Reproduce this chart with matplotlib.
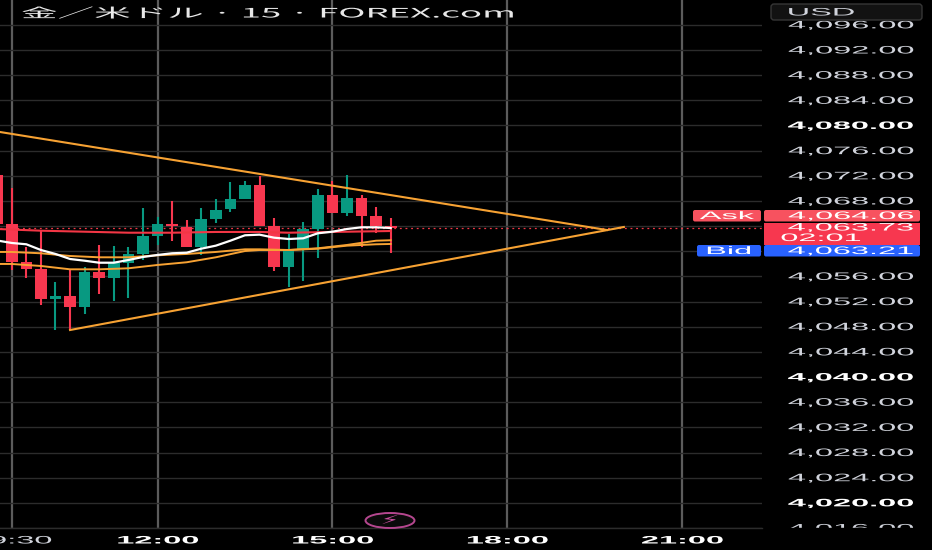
import matplotlib
matplotlib.use("Agg")
import matplotlib.pyplot as plt
from matplotlib.patches import Ellipse, FancyBboxPatch, Rectangle
from matplotlib.patheffects import AbstractPathEffect
from matplotlib.transforms import Affine2D

# bar times in hours, 09:15 .. 16:00
bar_hours = [9.25, 9.5, 9.75, 10.0, 10.25, 10.5, 10.75, 11.0, 11.25, 11.5, 11.75, 12.0, 12.25, 12.5,
             12.75, 13.0, 13.25, 13.5, 13.75, 14.0, 14.25, 14.5, 14.75, 15.0, 15.25, 15.5, 15.75, 16.0]
is_up = [0, 0, 0, 0, 1, 0, 1, 0, 1, 1, 1, 1, 0, 0, 1, 1, 1, 1, 0, 0,
         1, 1, 1, 0, 1, 0, 0, 0]
body_top = [4072.13, 4064.34, 4058.25, 4057.13, 4052.89, 4052.89, 4056.66, 4056.66, 4058.14, 4059.57,
            4062.43, 4064.29, 4064.29, 4063.91, 4065.13, 4066.61, 4068.26, 4070.59, 4070.59, 4064.02,
            4060.36, 4063.49, 4068.95, 4068.95, 4068.47, 4068.47, 4065.61, 4063.97]
body_bot = [4064.34, 4058.34, 4057.18, 4052.41, 4052.41, 4051.14, 4051.14, 4055.8, 4055.8, 4058.14,
            4059.57, 4062.48, 4063.97, 4060.68, 4060.68, 4065.13, 4066.67, 4068.26, 4064.02, 4057.5,
            4057.5, 4060.36, 4063.49, 4066.13, 4066.13, 4065.61, 4063.97, 4063.7]
highs = [4072.13, 4070.11, 4060.73, 4063.38, 4055.12, 4057.02, 4057.45, 4061.0, 4060.84, 4060.73,
         4066.88, 4065.5, 4067.95, 4064.93, 4066.83, 4068.26, 4071.01, 4071.17, 4071.97, 4065.29,
         4062.75, 4064.66, 4069.85, 4071.17, 4072.13, 4068.95, 4067.04, 4065.29]
lows = [4064.34, 4057.02, 4055.8, 4051.46, 4047.48, 4047.48, 4050.03, 4053.21, 4052.14, 4052.57,
        4058.61, 4061.0, 4061.68, 4060.68, 4059.36, 4064.5, 4066.24, 4068.26, 4064.02, 4056.82,
        4054.27, 4055.32, 4058.98, 4066.13, 4065.61, 4060.73, 4062.95, 4059.77]

white_ma = [4061.71, 4061.32, 4061.11, 4060.2, 4059.57, 4058.77, 4058.5, 4058.18, 4058.18, 4058.61,
            4059.09, 4059.41, 4059.68, 4059.77, 4060.41, 4060.89, 4061.68, 4062.54, 4062.64, 4062.16,
            4061.95, 4062.06, 4062.86, 4063.11, 4063.54, 4063.81, 4063.81, 4063.7]

orange_hours = [9.25, 9.5, 10.0, 10.5, 11.0, 11.5, 12.0, 12.5, 13.0, 13.5, 13.75, 14.25, 14.75, 15.25, 15.75, 16.0]
orange_a = [4059.89, 4059.89, 4059.68, 4059.25, 4059.04, 4059.04, 4059.36, 4059.57, 4059.89, 4060.31,
            4060.31, 4060.2, 4060.47, 4061.0, 4061.68, 4061.75]
orange_b = [4057.98, 4057.98, 4057.66, 4057.13, 4057.13, 4057.29, 4057.82, 4058.25, 4059.04, 4060.04,
            4060.2, 4060.2, 4060.41, 4060.89, 4061.11, 4061.16]

red_hours = [9.25, 10.0, 10.75, 11.5, 12.25, 13.0, 13.75, 14.25, 15.0, 16.0]
red_ma = [4063.54, 4063.27, 4063.11, 4062.95, 4062.95, 4063.07, 4063.07, 4062.95, 4063.07, 4063.22]

trend_upper_h = [9.3, 19.71]
trend_upper_p = [4078.96, 4063.38]
trend_lower_h = [10.5, 20.0]
trend_lower_p = [4047.48, 4063.86]

last_price = 4063.73
price_ticks = list(range(4016, 4100, 4))
hidden_prices = [4060, 4064]
bold_prices = [4020, 4040, 4080]
time_ticks = [9.5, 12, 15, 18, 21]
time_labels = ["09:30", "12:00", "15:00", "18:00", "21:00"]

UP = "#089981"
DOWN = "#f7374f"
ORANGE = "#f7a233"
W, H = 932, 550


class StretchX(AbstractPathEffect):
    # labels in the picture are squashed vertically, so widen them around x0
    def __init__(self, x0, sx):
        super().__init__()
        self.x0 = x0
        self.sx = sx

    def draw_path(self, renderer, gc, tpath, affine, rgbFace=None):
        t = affine + Affine2D().translate(-self.x0, 0).scale(self.sx, 1).translate(self.x0, 0)
        renderer.draw_path(gc, tpath, t, rgbFace)


fig = plt.figure(figsize=(W / 100, H / 100), dpi=100, facecolor="black")
ax = fig.add_axes([0, 1 - 528 / H, 762 / W, 528 / H], facecolor="black")
ax.set_xlim(9.298, 22.37)
ax.set_ylim(4016, 4099.95)
for s in ax.spines.values():
    s.set_visible(False)
ax.tick_params(length=0, labelleft=False, labelbottom=False)
ax.set_yticks(price_ticks)
ax.set_xticks(time_ticks)
ax.grid(axis="y", color="#2c2c2c", lw=1.0, zorder=0)
ax.grid(axis="x", color="#5c5c5c", lw=1.6, zorder=0)

for i, h in enumerate(bar_hours):
    col = UP if is_up[i] else DOWN
    ax.vlines(h, lows[i], highs[i], color=col, lw=1.5, zorder=3)
    ax.bar(h, body_top[i] - body_bot[i], bottom=body_bot[i], width=0.2, color=col, zorder=3)

ax.plot(red_hours, red_ma, color="#f23645", lw=1.5, zorder=4)
ax.plot(orange_hours, orange_a, color=ORANGE, lw=1.4, zorder=4)
ax.plot(orange_hours, orange_b, color=ORANGE, lw=1.4, zorder=4)
ax.plot(bar_hours, white_ma, color="white", lw=1.6, zorder=5)
ax.plot(trend_upper_h, trend_upper_p, color=ORANGE, lw=1.5, zorder=6)
ax.plot(trend_lower_h, trend_lower_p, color=ORANGE, lw=1.5, zorder=6)
ax.axhline(last_price, color="#f23645", lw=0.9, ls=(0, (1.5, 3)), zorder=2)

# overlay in pixels for the price scale, tags and title
ov = fig.add_axes([0, 0, 1, 1], facecolor="none")
ov.set_xlim(0, W)
ov.set_ylim(H, 0)
ov.axis("off")


def label(x, y, s, sx=3.0, size=7.8, color="#d1d4dc", weight="normal", ha="center", family="Liberation Sans", z=10):
    t = ov.text(x, y, s, fontsize=size, color=color, fontweight=weight, ha=ha, va="center",
                family=family, zorder=z)
    t.set_path_effects([StretchX(x, sx)])
    return t


for p in price_ticks:
    if p in hidden_prices:
        continue
    y = ax.transData.transform((0, p))[1]
    bold = p in bold_prices
    label(851, H - y + 0.5, f"{p:,.2f}", color="white" if bold else "#d1d4dc", weight="bold" if bold else "normal")

# hide the lower half of the last price label, then the time scale
ov.add_patch(Rectangle((763, 528), W - 763, H - 528, color="black", zorder=11))
ov.plot([0, 762], [528, 528], color="#2c2c2c", lw=1.0, zorder=12)
for h, s in zip(time_ticks, time_labels):
    x = ax.transData.transform((h, 0))[0]
    label(x, 540.5, s, weight="bold" if s != "09:30" else "normal", color="white" if s != "09:30" else "#d1d4dc", z=12)

# USD box
ov.add_patch(FancyBboxPatch((771, 4), 151, 16, boxstyle="round,pad=0,rounding_size=3",
                            fc="#121212", ec="#363636", lw=1, zorder=13))
label(821, 12.5, "USD", z=14)

# price tags
ov.add_patch(FancyBboxPatch((693, 210), 68, 11.5, boxstyle="round,pad=0,rounding_size=2", fc="#f7525f", ec="none", zorder=13))
ov.add_patch(FancyBboxPatch((764, 210), 156, 11.5, boxstyle="round,pad=0,rounding_size=2", fc="#f7525f", ec="none", zorder=13))
ov.add_patch(Rectangle((764, 222.5), 156, 22, fc="#f7374f", ec="none", zorder=13))
ov.add_patch(FancyBboxPatch((697, 245), 64, 11.5, boxstyle="round,pad=0,rounding_size=2", fc="#2962ff", ec="none", zorder=13))
ov.add_patch(FancyBboxPatch((764, 245), 156, 11.5, boxstyle="round,pad=0,rounding_size=2", fc="#2962ff", ec="none", zorder=13))
label(727, 216, "Ask", color="white", z=14)
label(851, 216, "4,064.06", color="white", z=14)
label(851, 227.5, "4,063.73", color="white", z=14)
label(821, 238, "02:01", color="white", z=14)
label(729, 251, "Bid", color="white", z=14)
label(851, 251, "4,063.21", color="white", z=14)

# title
label(21, 14, "金／米ドル · 15 · FOREX.com", sx=2.8, size=9.4, color="#e8e8e8", ha="left",
      family=["Noto Sans CJK JP", "DejaVu Sans"])

# lightning badge
ov.add_patch(Ellipse((390, 520.5), 49, 15, fc="#0a0a0a", ec="#b5478f", lw=1.4, zorder=14))
label(390, 520.5, "⚡", sx=2.2, size=9, color="#c94f9f", family="DejaVu Sans", z=15)

fig.savefig("out.png", dpi=100, facecolor="black")
